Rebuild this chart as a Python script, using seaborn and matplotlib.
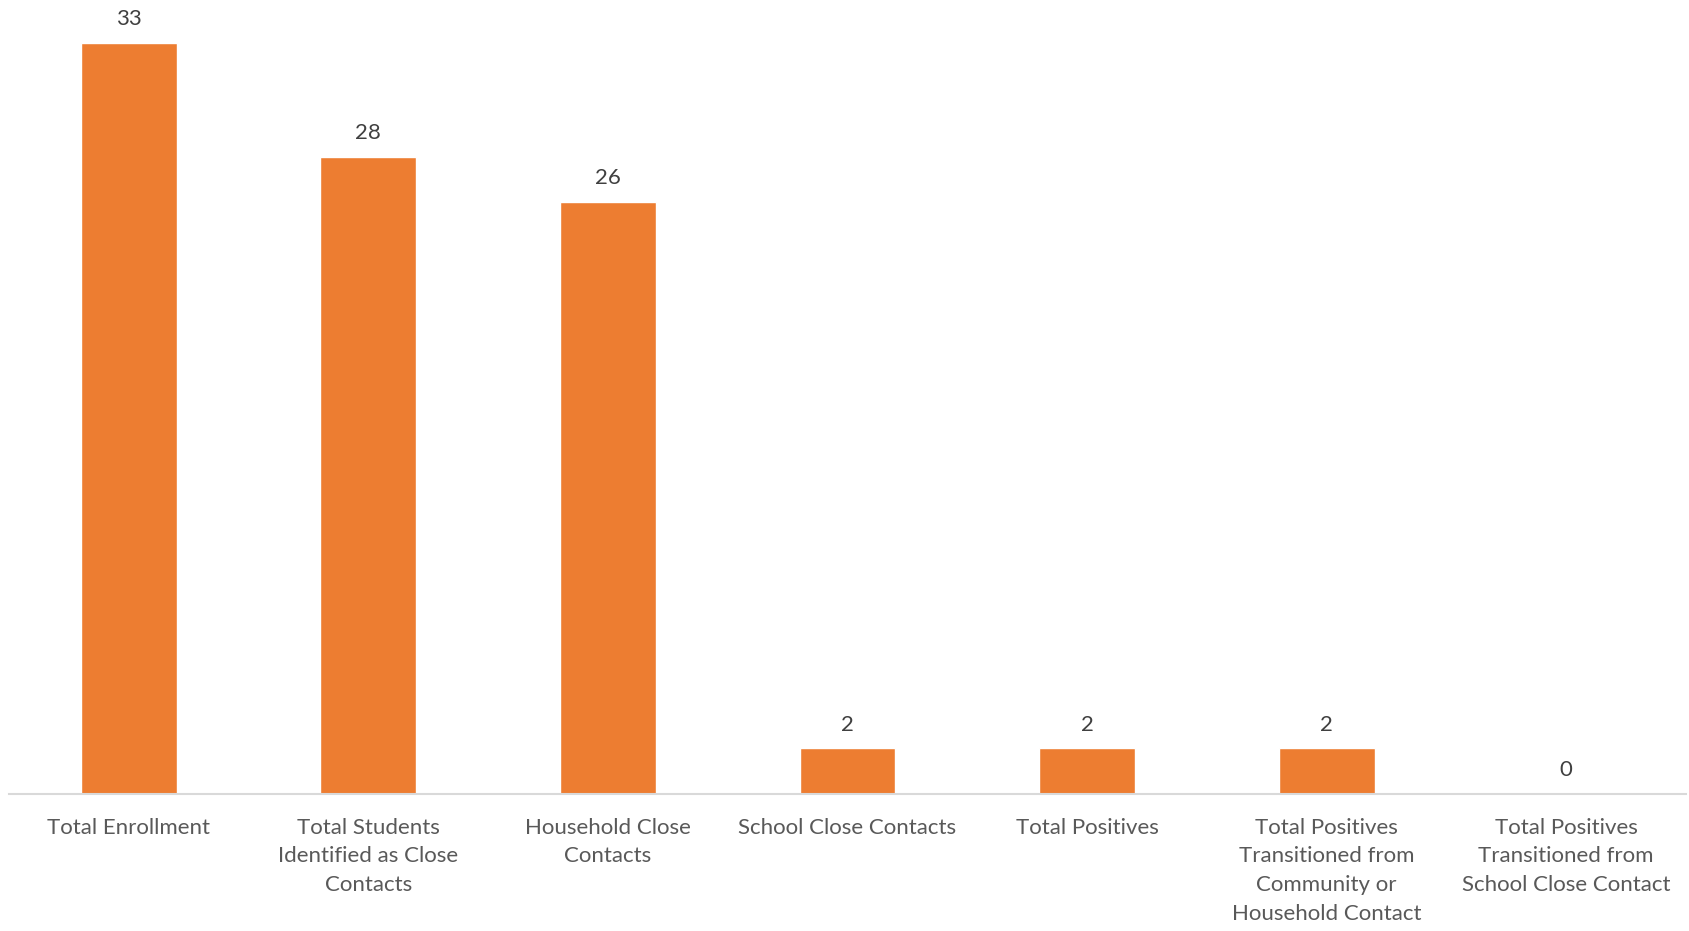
import matplotlib
matplotlib.use("Agg")
import matplotlib.pyplot as plt
import seaborn as sns
import pandas as pd

categories = [
    "Total Enrollment",
    "Total Students\nIdentified as Close\nContacts",
    "Household Close\nContacts",
    "School Close Contacts",
    "Total Positives",
    "Total Positives\nTransitioned from\nCommunity or\nHousehold Contact",
    "Total Positives\nTransitioned from\nSchool Close Contact",
]
counts = [33, 28, 26, 2, 2, 2, 0]

df = pd.DataFrame({"category": categories, "count": counts})

sns.set_theme(style="white")
plt.rcParams["font.family"] = ["Lato", "DejaVu Sans"]

fig = plt.figure(figsize=(16.9, 9.31), dpi=100)
ax = fig.add_axes([9 / 1690, 137 / 931, 1677 / 1690, 794 / 931])

sns.barplot(data=df, x="category", y="count", color="#ED7D31", width=0.4,
            saturation=1, ax=ax)

# data labels above bars
for i, v in enumerate(counts):
    ax.annotate(str(v), (i, v), xytext=(0, 10), textcoords="offset points",
                ha="center", va="bottom", fontsize=16, color="#404040")

ax.set_ylim(0, 34.89)
ax.set_xlim(-0.5, len(categories) - 0.5)
ax.set_xlabel("")
ax.set_ylabel("")
ax.set_yticks([])
ax.tick_params(axis="x", length=0, pad=17, labelsize=16, labelcolor="#595959")
for lbl in ax.get_xticklabels():
    lbl.set_linespacing(1.55)

for side in ["top", "left", "right"]:
    ax.spines[side].set_visible(False)
ax.spines["bottom"].set_color("#d9d9d9")
ax.spines["bottom"].set_linewidth(1.5)

fig.savefig("out.png", dpi=100)
